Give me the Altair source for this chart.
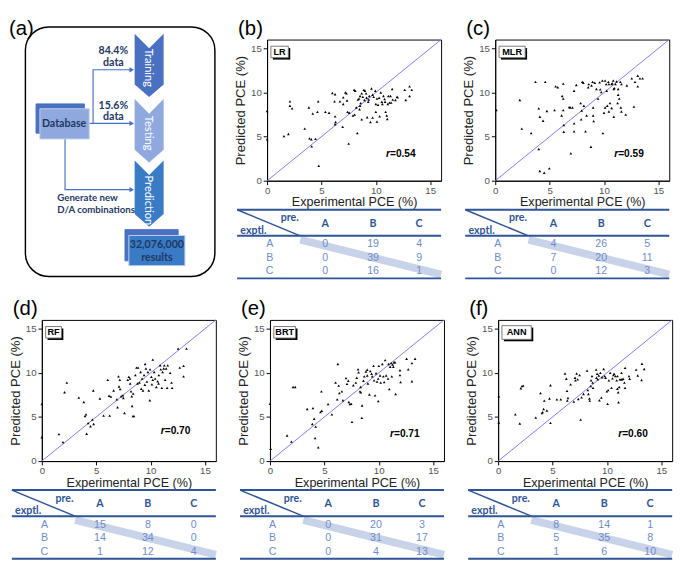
import altair as alt
import pandas as pd

SANS = "Liberation Sans, Arial, sans-serif"
CAL = "Lato, Open Sans, sans-serif"

# ---------------- data: (experimental PCE, predicted PCE) ----------------
lr_points = [(0, 7.9), (0, 4.7), (1.55, 5.05), (1.96, 5.3), (2.1, 9.0), (2.1, 8.5), (2.3, 8.2),
             (3.46, 5.9), (3.84, 8.3), (3.9, 4.8), (4.07, 4.7), (4.1, 3.9), (4.2, 7.6), (4.45, 4.75),
             (4.63, 7.8), (4.7, 9.0), (4.75, 1.7), (5.36, 7.8), (5.7, 7.7), (6.0, 9.95), (6.25, 9.8),
             (6.2, 9.0), (6.25, 7.3), (6.3, 6.65), (6.25, 6.4), (6.7, 9.0), (6.95, 6.1), (7.0, 9.45),
             (7.0, 8.7), (7.2, 10.0), (7.3, 9.9), (7.4, 7.8), (7.5, 4.2), (7.55, 7.7), (7.35, 9.1),
             (8.0, 10.3), (8.1, 10.2), (7.9, 7.4), (8.05, 7.5), (8.2, 8.3), (8.3, 5.4), (8.35, 9.2),
             (8.45, 9.3), (8.5, 8.1), (8.55, 8.5), (8.6, 8.8), (8.7, 6.95), (8.55, 9.6), (8.8, 9.5),
             (8.9, 10.3), (9.0, 10.2), (9.1, 9.9), (8.95, 9.15), (9.15, 9.4), (9.2, 7.2), (9.3, 8.95),
             (9.4, 9.6), (9.5, 6.65), (9.6, 10.45), (9.7, 9.75), (9.7, 7.15), (9.8, 9.5), (9.95, 10.2),
             (10.0, 8.7), (10.0, 7.8), (10.1, 9.3), (10.2, 8.6), (10.3, 9.4), (10.1, 6.7), (10.35, 7.3),
             (10.45, 10.0), (10.6, 8.7), (10.7, 9.6), (10.8, 9.25), (10.85, 8.95), (10.9, 7.8),
             (11.0, 7.4), (11.05, 7.0), (11.1, 8.7), (11.15, 9.6), (11.25, 8.85), (11.35, 9.6),
             (11.4, 8.85), (11.5, 10.4), (11.55, 9.2), (11.8, 9.15), (11.95, 9.5), (12.0, 9.45),
             (12.65, 10.3), (12.75, 9.15), (13.1, 10.7), (13.1, 9.6), (13.3, 10.3), (10.55, 8.95),
             (8.7, 9.9), (9.35, 9.2)]

mlr_points = [(0.1, 8.0), (2.26, 9.15), (2.44, 5.9), (3.3, 5.4), (3.7, 11.2), (4.0, 8.2), (4.1, 7.25),
              (4.0, 3.6), (4.1, 1.1), (4.4, 6.8), (4.5, 0.9), (4.6, 11.2), (4.75, 7.9), (4.97, 1.4),
              (5.45, 8.0), (5.55, 10.7), (5.75, 10.6), (6.15, 9.6), (6.25, 9.3), (6.1, 7.4), (6.25, 8.0),
              (6.3, 6.3), (6.3, 5.55), (6.25, 11.0), (6.8, 8.35), (6.9, 8.3), (7.1, 8.3), (6.95, 3.1),
              (7.25, 6.5), (7.25, 5.6), (7.25, 10.2), (7.45, 10.85), (7.85, 8.8), (8.0, 11.2), (8.1, 11.1),
              (7.95, 7.95), (7.9, 6.95), (8.15, 8.5), (8.3, 5.6), (8.4, 7.4), (8.55, 10.6), (8.6, 10.95),
              (8.8, 3.85), (8.85, 10.8), (9.0, 8.3), (9.0, 7.4), (9.05, 6.75), (8.95, 11.2), (9.15, 11.1),
              (9.3, 10.4), (9.45, 9.3), (9.6, 11.15), (9.65, 10.35), (9.75, 10.05), (9.85, 11.35),
              (9.9, 5.4), (10.0, 7.7), (10.1, 8.3), (10.2, 10.95), (10.25, 10.2), (10.3, 8.5),
              (10.4, 11.2), (10.45, 10.95), (10.55, 8.8), (10.7, 8.25), (10.7, 10.95), (10.75, 11.05),
              (10.85, 11.35), (10.9, 10.4), (10.9, 7.25), (10.95, 10.5), (11.05, 10.95), (11.15, 11.25),
              (11.3, 10.4), (11.3, 9.75), (11.4, 9.3), (11.5, 11.2), (11.55, 8.3), (11.6, 7.85),
              (11.6, 10.95), (12.0, 7.5), (12.1, 10.8), (12.55, 11.6), (12.75, 8.4), (12.85, 11.2),
              (13.1, 11.9), (13.1, 10.7), (13.3, 11.6), (13.55, 11.6), (11.25, 8.8), (10.1, 11.35),
              (10.45, 7.85)]

rf_points = [(0, 6.45), (0, 2.7), (1.57, 3.05), (1.94, 2.15), (2.09, 7.8), (2.3, 8.9), (3.4, 7.2),
             (3.86, 6.7), (3.97, 5.1), (4.06, 5.3), (4.12, 3.1), (4.26, 4.3), (4.47, 3.95), (4.64, 4.7),
             (4.76, 4.2), (4.73, 8.0), (5.34, 7.1), (5.68, 5.15), (6.06, 9.2), (6.18, 7.4), (6.24, 5.15),
             (6.35, 7.3), (6.6, 8.0), (6.9, 7.0), (6.96, 6.1), (7.05, 9.6), (7.17, 9.2), (7.1, 8.45),
             (7.2, 8.15), (7.3, 7.35), (7.45, 7.45), (7.5, 7.15), (7.6, 5.45), (7.9, 9.2), (8.0, 9.55),
             (8.1, 9.35), (8.12, 8.8), (8.2, 7.9), (8.27, 7.35), (8.3, 6.25), (8.38, 5.1), (8.47, 5.1),
             (8.4, 7.65), (8.6, 9.75), (8.7, 10.6), (8.85, 10.6), (8.8, 8.8), (8.97, 8.9), (9.08, 10.1),
             (9.14, 8.2), (9.22, 9.35), (9.3, 8.0), (9.4, 9.75), (9.5, 11.0), (9.57, 10.5), (9.66, 9.0),
             (9.75, 10.1), (9.83, 8.0), (9.93, 6.9), (9.95, 10.4), (10.07, 9.55), (10.12, 8.7),
             (10.2, 11.5), (10.33, 10.1), (10.42, 9.35), (10.53, 8.4), (10.65, 9.05), (10.76, 9.75),
             (10.88, 10.85), (10.94, 10.4), (11.03, 8.3), (11.1, 10.1), (11.2, 10.5), (11.26, 10.85),
             (11.34, 9.2), (11.43, 10.5), (11.52, 8.3), (11.58, 10.85), (11.8, 10.0), (11.92, 8.9),
             (11.98, 8.3), (12.53, 12.75), (12.68, 10.6), (13.03, 9.6), (13.03, 10.8), (13.3, 12.75),
             (10.73, 8.8), (10.2, 9.2), (9.47, 8.65)]

brt_points = [(0, 6.5), (0.06, 1.4), (1.57, 2.9), (1.97, 2.2), (2.12, 8.4), (2.32, 8.4), (3.42, 5.9),
              (3.95, 6.0), (4.06, 4.8), (3.89, 4.2), (4.2, 3.9), (4.15, 2.6), (4.44, 1.55), (4.64, 5.55),
              (4.76, 5.7), (4.73, 7.9), (5.34, 6.45), (5.69, 5.3), (6.03, 8.9), (6.18, 7.0), (6.24, 11.0),
              (6.32, 8.55), (6.38, 7.7), (6.61, 7.9), (6.7, 6.9), (6.99, 9.4), (7.08, 8.75), (7.2, 9.1),
              (7.25, 6.7), (7.34, 6.45), (7.46, 6.5), (7.54, 4.45), (7.66, 8.6), (7.98, 9.45), (8.1, 10.4),
              (8.15, 10.05), (8.27, 7.9), (8.35, 7.8), (8.47, 6.3), (8.44, 4.9), (8.33, 8.4), (8.59, 9.1),
              (8.67, 9.6), (8.82, 10.15), (8.94, 10.35), (9.0, 8.8), (9.14, 7.55), (9.22, 10.2),
              (9.34, 9.9), (9.4, 9.6), (9.52, 10.8), (9.57, 9.15), (9.66, 7.45), (9.75, 9.95), (9.84, 9.0),
              (9.95, 6.8), (10.01, 10.8), (10.12, 9.7), (10.18, 8.9), (10.33, 11.0), (10.42, 9.6),
              (10.5, 8.95), (10.59, 11.45), (10.68, 9.7), (10.85, 9.35), (10.91, 11.0), (10.97, 8.15),
              (11.05, 10.7), (11.14, 11.1), (11.2, 9.6), (11.28, 10.95), (11.34, 10.7), (11.4, 11.2),
              (11.49, 11.2), (11.55, 7.6), (11.95, 10.3), (12.01, 8.95), (11.95, 9.75), (12.56, 11.6),
              (12.71, 10.4), (13.05, 11.1), (13.05, 9.05), (13.34, 11.6), (9.95, 9.35), (8.94, 9.7),
              (7.89, 8.9)]

ann_points = [(0.06, 7.33), (0.06, 4.37), (1.58, 5.3), (1.99, 4.26), (2.09, 8.26), (2.19, 8.5), (2.3, 8.55),
              (3.46, 4.93), (3.9, 7.7), (4.09, 5.55), (4.03, 5.44), (4.18, 5.9), (4.24, 6.85), (4.48, 5.74),
              (4.72, 7.1), (4.81, 8.6), (4.81, 4.33), (5.4, 7.0), (5.76, 7.0), (6.15, 9.93), (6.27, 9.33),
              (6.33, 7.96), (6.36, 6.85), (6.42, 7.15), (6.66, 8.7), (6.96, 6.74), (7.07, 9.44), (7.1, 9.15),
              (7.22, 9.93), (7.31, 9.26), (7.37, 7.04), (7.49, 9.74), (7.58, 4.7), (7.67, 7.22), (7.85, 7.6),
              (8.18, 10.26), (8.24, 8.04), (8.3, 7.6), (8.39, 7.1), (8.42, 6.85), (8.51, 8.5), (8.54, 9.15),
              (8.63, 9.63), (8.69, 8.9), (8.72, 8.3), (9.01, 10.37), (9.04, 9.44), (9.1, 9.9), (9.16, 9.26),
              (9.25, 9.7), (9.31, 6.9), (9.4, 10.0), (9.49, 7.2), (9.55, 9.5), (9.7, 10.44), (9.79, 9.63),
              (9.88, 9.44), (10.0, 7.9), (10.06, 6.48), (10.12, 8.04), (10.18, 9.15), (10.3, 10.0),
              (10.42, 8.3), (10.51, 9.37), (10.6, 9.74), (10.66, 9.9), (10.78, 9.63), (10.9, 9.15),
              (10.96, 8.2), (11.04, 7.8), (11.07, 6.67), (11.13, 8.4), (11.19, 9.26), (11.31, 9.26),
              (11.4, 9.26), (11.49, 9.33), (11.61, 8.9), (11.67, 8.3), (11.67, 10.56), (12.03, 9.63),
              (12.09, 9.33), (12.69, 10.37), (12.84, 9.7), (13.19, 9.19), (13.22, 11.04), (13.43, 10.44),
              (11.34, 10.0), (10.97, 9.63)]

# ---------------- confusion tables (rows: exptl. A/B/C, cols: pre. A/B/C) ----------------
lr_table = [[0, 19, 4], [0, 39, 9], [0, 16, 1]]
mlr_table = [[4, 26, 5], [7, 20, 11], [0, 12, 3]]
rf_table = [[15, 8, 0], [14, 34, 0], [1, 12, 4]]
brt_table = [[0, 20, 3], [0, 31, 17], [0, 4, 13]]
ann_table = [[8, 14, 1], [5, 35, 8], [1, 6, 10]]

model_names = ["LR", "MLR", "RF", "BRT", "ANN"]
r_values = ["0.54", "0.59", "0.70", "0.71", "0.60"]
panel_tags = ["(b)", "(c)", "(d)", "(e)", "(f)"]
classes = ["A", "B", "C"]
axis_ticks = [0, 5, 10, 15]

stage_names = ["Training", "Testing", "Prediction"]
stage_colors = ["#4a70c2", "#8fa8de", "#3a7bc5"]
split_texts = ["84.4%", "data", "15.6%", "data"]
note_texts = ["Generate new", "D/A combinations"]
result_texts = ["32,076,000", "results"]

# ---------------- layout constants ----------------
PW, PH = 180, 146          # scatter plot area
TW, TH = 213, 71           # table local units
TOFF = 31                  # table starts this far left of the plot area
TAG_DX, TAG_DY = -30, 11   # panel tag position (px) left of / above the plot area
COL_X = [34, 92, 142, 190]
ROW_Y = [36, 50, 64]
NAVY = "#1f3864"
TBLUE = "#2f5597"
LBLUE = "#6e8ccc"


def scatter(points, name, r, tag, box_w, box_lo=13.95, box_hi=15.25, r_x=10.9, r_y=3.0):
    df = pd.DataFrame(points, columns=["exp", "pred"])
    xs = alt.Scale(domain=[0, 16], nice=False, zero=False)
    ys = alt.Scale(domain=[0, 16], nice=False, zero=False)
    xax = alt.Axis(values=axis_ticks, title="Experimental PCE (%)", titleFont=SANS, titleFontSize=13,
                   titleFontWeight="normal", titleColor="#222", labelFont=SANS, labelFontSize=10,
                   labelColor="#555", labelFlush=False, tickColor="black", domainColor="black",
                   tickSize=4, grid=False, labelPadding=1, titlePadding=1)
    yax = alt.Axis(values=axis_ticks, title="Predicted PCE (%)", titleFont=SANS, titleFontSize=13.5,
                   titleFontWeight="normal", titleColor="#222", labelFont=SANS, labelFontSize=10,
                   labelColor="#555", labelFlush=False, tickColor="black", domainColor="black",
                   tickSize=4, grid=False, labelPadding=2, titlePadding=3)

    def enc(xf, yf):
        return dict(x=alt.X(xf, type="quantitative", scale=xs, axis=xax),
                    y=alt.Y(yf, type="quantitative", scale=ys, axis=yax))

    diag = alt.Chart(pd.DataFrame({"v": [0, 16]})).mark_line(
        color="#7b7bf2", strokeWidth=1).encode(**enc("v", "v"))
    pts = alt.Chart(df).mark_point(shape="triangle-up", filled=True, size=8, color="black",
                                   opacity=1).encode(**enc("exp", "pred"))
    bx = pd.DataFrame({"x": [0.35], "x2": [0.35 + box_w], "y": [box_hi], "y2": [box_lo],
                       "cx": [0.35 + box_w / 2], "cy": [(box_lo + box_hi) / 2], "t": [name]})
    shadow = alt.Chart(bx).mark_rect(color="black", xOffset=2, x2Offset=2, yOffset=2, y2Offset=2).encode(
        x2="x2:Q", y2="y2:Q", **enc("x", "y"))
    front = alt.Chart(bx).mark_rect(fill="white", stroke="#777", strokeWidth=1).encode(
        x2="x2:Q", y2="y2:Q", **enc("x", "y"))
    btxt = alt.Chart(bx).mark_text(font=SANS, fontWeight="bold", fontSize=9.5, color="black").encode(
        text="t:N", **enc("cx", "cy"))
    rd = pd.DataFrame({"x": [r_x + 0.4], "y": [r_y], "r": ["r"], "v": ["=" + r]})
    r1 = alt.Chart(rd).mark_text(font=SANS, fontWeight="bold", fontStyle="italic", fontSize=10.5,
                                 align="right", color="black").encode(text="r:N", **enc("x", "y"))
    r2 = alt.Chart(rd).mark_text(font=SANS, fontWeight="bold", fontSize=10.5, align="left",
                                 color="black").encode(text="v:N", **enc("x", "y"))
    # panel tag, placed just outside the top-left corner of the plot area
    tg = pd.DataFrame({"x": [TAG_DX * 16 / PW], "y": [16 + TAG_DY * 16 / PH], "t": [tag]})
    ttxt = alt.Chart(tg).mark_text(font=SANS, fontSize=21, align="left", color="black").encode(
        text="t:N", **enc("x", "y"))
    return alt.layer(diag, pts, shadow, front, btxt, r1, r2, ttxt).properties(
        width=PW, height=PH, view=alt.ViewBackground(stroke="black", strokeWidth=1))


def table(matrix):
    # local units 0..TW are mapped onto pixels -TOFF..PW of the panel
    s = TW / (PW + TOFF)
    xs = alt.Scale(domain=[TOFF * s, (TOFF + PW) * s], nice=False, zero=False)
    ys = alt.Scale(domain=[0, TH], nice=False, zero=False, reverse=True)

    def enc(xf, yf):
        return dict(x=alt.X(xf, type="quantitative", scale=xs, axis=None),
                    y=alt.Y(yf, type="quantitative", scale=ys, axis=None))

    band = alt.Chart(pd.DataFrame({"x": [66], "y": [31], "x2": [TW], "y2": [67]})).mark_rule(
        color="#c8d2e8", strokeWidth=8, strokeCap="butt").encode(x2="x2:Q", y2="y2:Q", **enc("x", "y"))
    hl = alt.Chart(pd.DataFrame({"x": [0, 0, 0], "x2": [TW, TW, TW], "y": [0, 27, TH]})).mark_rule(
        color=TBLUE, strokeWidth=2).encode(x2="x2:Q", **enc("x", "y"))
    dg = alt.Chart(pd.DataFrame({"x": [0], "y": [0], "x2": [66], "y2": [27]})).mark_rule(
        color=TBLUE, strokeWidth=1.5).encode(x2="x2:Q", y2="y2:Q", **enc("x", "y"))
    head = pd.DataFrame({"t": ["pre.", "exptl."] + classes,
                         "x": [55, 17] + COL_X[1:], "y": [9, 22, 15, 15, 15]})
    htxt = alt.Chart(head).mark_text(font=CAL, fontWeight="bold", fontSize=11, color=TBLUE).encode(
        text="t:N", **enc("x", "y"))
    rows = []
    for i, c in enumerate(classes):
        rows.append({"t": c, "x": COL_X[0], "y": ROW_Y[i]})
        for j in range(3):
            rows.append({"t": str(matrix[i][j]), "x": COL_X[j + 1], "y": ROW_Y[i]})
    btxt = alt.Chart(pd.DataFrame(rows)).mark_text(font=SANS, fontSize=11, color=LBLUE).encode(
        text="t:N", **enc("x", "y"))
    return alt.layer(band, hl, dg, htxt, btxt).properties(width=PW, height=TH)


def panel(k, points, matrix, box_w, box_lo=13.95, box_hi=15.25, r_x=10.9, r_y=3.0):
    sc = scatter(points, model_names[k], r_values[k], panel_tags[k], box_w, box_lo, box_hi, r_x, r_y)
    tb = table(matrix)
    return alt.vconcat(sc, tb, spacing=-3)


def flow_panel():
    # local units follow the reference picture: x=34 / y=21 sit on the plot origins of the other panels
    FW, FH = 181, PH + 100
    xs = alt.Scale(domain=[34, 34 + FW], nice=False, zero=False)
    ys = alt.Scale(domain=[21, 265], nice=False, zero=False, reverse=True)

    def enc(xf, yf, stack=False):
        if stack:
            yy = alt.Y(yf, type="quantitative", scale=ys, axis=None, stack=None)
        else:
            yy = alt.Y(yf, type="quantitative", scale=ys, axis=None)
        return dict(x=alt.X(xf, type="quantitative", scale=xs, axis=None), y=yy)

    frame = alt.Chart(pd.DataFrame({"x": [17], "x2": [213], "y": [8], "y2": [264]})).mark_rect(
        cornerRadius=24, fillOpacity=0, stroke="black", strokeWidth=1.5).encode(
        x2="x2:Q", y2="y2:Q", **enc("x", "y"))
    tag = alt.Chart(pd.DataFrame({"x": [0], "y": [10], "t": ["(a)"]})).mark_text(
        font=SANS, fontSize=21, align="left", color="black").encode(text="t:N", **enc("x", "y"))

    tops = [15, 82, 145]
    edges = [67, 134, 200]
    rows = []
    for s, t, e in zip(stage_names, tops, edges):
        rows += [{"s": s, "x": 130, "top": t, "bot": e},
                 {"s": s, "x": 145, "top": t + 15, "bot": e + 13},
                 {"s": s, "x": 160, "top": t, "bot": e}]
    chev = alt.Chart(pd.DataFrame(rows)).mark_area(opacity=1).encode(
        y2="bot:Q", color=alt.Color("s:N", scale=alt.Scale(domain=stage_names, range=stage_colors),
                                    legend=None), **enc("x", "top", stack=True))
    stxt = alt.Chart(pd.DataFrame({"t": stage_names, "x": [144, 144, 144], "y": [50, 117, 186]})).mark_text(
        angle=90, color="white", font=CAL, fontSize=11.5).encode(text="t:N", **enc("x", "y"))

    arrows = pd.DataFrame({
        "p": [1, 1, 1, 1, 2, 2, 3, 3, 3],
        "o": [0, 1, 2, 3, 0, 1, 0, 1, 2],
        "x": [83, 87, 87, 126, 87, 126, 58, 58, 126],
        "y": [107, 107, 52, 52, 107, 107, 123, 175, 175]})
    aline = alt.Chart(arrows).mark_line(color="#4a70c2", strokeWidth=1.2).encode(
        detail="p:N", order="o:Q", **enc("x", "y"))
    heads = alt.Chart(pd.DataFrame({"x": [127, 127, 127], "y": [52, 107, 175]})).mark_point(
        shape="triangle-right", filled=True, size=30, color="#4a70c2", opacity=1).encode(**enc("x", "y"))

    boxes = pd.DataFrame({"x": [28, 32, 120, 124], "x2": [78, 83, 175, 182],
                          "y": [87, 92, 216, 222], "y2": [117, 123, 248, 253],
                          "k": ["s", "f1", "s", "f2"]})
    bx = alt.Chart(boxes).mark_rect(strokeWidth=1).encode(
        x2="x2:Q", y2="y2:Q",
        color=alt.Color("k:N", scale=alt.Scale(domain=["s", "f1", "f2"],
                                               range=["#4a70c2", "#e9eef8", "#ffffff"]), legend=None),
        stroke=alt.Stroke("k:N", scale=alt.Scale(domain=["s", "f1", "f2"],
                                                 range=["#4a70c2", "#c5d0ea", "#c5d0ea"]), legend=None),
        **enc("x", "y"))

    texts = pd.DataFrame({
        "t": ["Database"] + split_texts + result_texts,
        "x": [57, 108, 108, 108, 108, 153, 153],
        "y": [108, 33, 45, 89, 101, 232, 245]})
    ctext = alt.Chart(texts).mark_text(font=CAL, fontWeight="bold", fontSize=11, color=NAVY).encode(
        text="t:N", **enc("x", "y"))
    ltext = alt.Chart(pd.DataFrame({"t": note_texts, "x": [50, 50], "y": [184, 196]})).mark_text(
        font=CAL, fontWeight="bold", fontSize=10, color=NAVY, align="left").encode(
        text="t:N", **enc("x", "y"))

    return alt.layer(frame, chev, stxt, aline, heads, bx, ctext, ltext, tag).properties(width=FW, height=FH)


pb = panel(0, lr_points, lr_table, 1.6)
pc = panel(1, mlr_points, mlr_table, 2.4)
pd_ = panel(2, rf_points, rf_table, 1.45, r_y=3.4)
pe = panel(3, brt_points, brt_table, 2.0, r_x=11.0, r_y=3.05)
pf = panel(4, ann_points, ann_table, 2.7, box_lo=13.8, box_hi=15.35, r_x=11.0, r_y=3.1)

row1 = alt.hconcat(flow_panel(), pb, pc, spacing=16)
row2 = alt.hconcat(pd_, pe, pf, spacing=16)

chart = alt.vconcat(row1, row2, spacing=18).configure(padding=0).configure_view(stroke="transparent")

chart.save("out.html", embed_options={"renderer": "svg", "actions": False})
